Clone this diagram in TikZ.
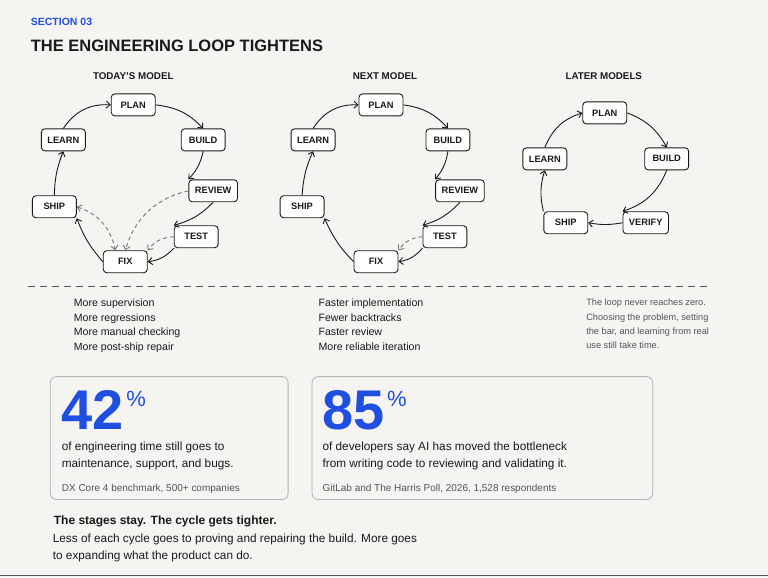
\documentclass[tikz,border=0pt]{standalone}
\usepackage{fontspec}
\setmainfont{Liberation Sans}
\usetikzlibrary{arrows.meta}
\definecolor{bg}{HTML}{F5F4F1}
\definecolor{blu}{HTML}{1F4FE0}
\definecolor{ink}{HTML}{1A1A1A}
\definecolor{gr}{HTML}{555555}
\begin{document}
\begin{tikzpicture}[x=1pt,y=-1pt,
 st/.style={draw=ink,line width=0.9pt,rounded corners=3.5pt,fill=white,minimum height=22pt,minimum width=44pt,inner xsep=6pt,font=\fontsize{9.3}{11}\selectfont\bfseries,text=ink},
 ar/.style={draw=ink,line width=0.9pt,-{Straight Barb[length=4pt,width=7pt]}},
 da/.style={draw=gr!80,line width=0.9pt,dash pattern=on 4pt off 3pt,-{Straight Barb[length=4pt,width=7pt]}},
 hd/.style={font=\fontsize{9.8}{11}\selectfont\bfseries,text=ink},
 tx/.style={anchor=north west,align=left,font=\fontsize{10.6}{14.5}\selectfont,text=ink},
 sm/.style={anchor=north west,align=left,font=\fontsize{9.2}{14.2}\selectfont,text=gr},
 card/.style={draw=gray!60,line width=0.8pt,rounded corners=6pt}]
\fill[bg] (0,0) rectangle (768,578);
\node[anchor=west,text=blu,font=\fontsize{10.5}{12}\selectfont\bfseries] (sec) at (27,22) {SECTION 03};
\node[anchor=west,text=ink,font=\fontsize{16.5}{20}\selectfont\bfseries] (ttl) at (27,46) {THE ENGINEERING LOOP TIGHTENS};
% model 1
\node[hd] (h1) at (133,76) {TODAY'S MODEL};
\node[st] (p1) at (133,105) {PLAN};
\node[st] (b1) at (203,140) {BUILD};
\node[st] (r1) at (213,191) {REVIEW};
\node[st] (t1) at (196,237) {TEST};
\node[st] (f1) at (125,262) {FIX};
\node[st] (s1) at (54,207) {SHIP};
\node[st] (l1) at (63,140) {LEARN};
\draw[ar] (p1.east) to[bend left=20] (b1.north);
\draw[ar] (b1.south) to[bend left=15] (r1.north west);
\draw[ar] (r1.south) to[bend left=15] (t1.north west);
\draw[ar] (t1.south west) to[bend left=20] (f1.east);
\draw[ar] (f1.west) to[bend left=10] (s1.south east);
\draw[ar] (s1.north) to[bend left=10] (l1.south);
\draw[ar] (l1.north) to[bend left=30] (p1.west);
\draw[da] (r1.west) to[bend right=30] (f1.north);
\draw[da] (t1.west) to[bend right=25] (f1.north east);
\draw[da,{Straight Barb[length=4pt,width=7pt]}-{Straight Barb[length=4pt,width=7pt]}] (s1.east) to[bend left=30] ([xshift=-10pt]f1.north);
% model 2
\node[hd] (h2) at (385,76) {NEXT MODEL};
\node[st] (p2) at (381,105) {PLAN};
\node[st] (b2) at (448,140) {BUILD};
\node[st] (r2) at (460,191) {REVIEW};
\node[st] (t2) at (445,237) {TEST};
\node[st] (f2) at (376,262) {FIX};
\node[st] (s2) at (302,207) {SHIP};
\node[st] (l2) at (313,140) {LEARN};
\draw[ar] (p2.east) to[bend left=20] (b2.north);
\draw[ar] (b2.south) to[bend left=15] (r2.north west);
\draw[ar] (r2.south) to[bend left=15] (t2.north west);
\draw[ar] (t2.south west) to[bend left=20] (f2.east);
\draw[ar] (f2.west) to[bend left=10] (s2.south east);
\draw[ar] (s2.north) to[bend left=10] (l2.south);
\draw[ar] (l2.north) to[bend left=30] (p2.west);
\draw[da] (t2.west) to[bend right=25] (f2.north east);
% model 3
\node[hd] (h3) at (604,76) {LATER MODELS};
\node[st] (p3) at (605,113) {PLAN};
\node[st] (b3) at (667,159) {BUILD};
\node[st] (v3) at (646,223) {VERIFY};
\node[st] (s3) at (566,223) {SHIP};
\node[st] (l3) at (545,159) {LEARN};
\draw[ar] (p3.east) to[bend left=20] (b3.north);
\draw[ar] (b3.south) to[bend left=25] (v3.north west);
\draw[ar] (v3.west) to[bend left=10] (s3.east);
\draw[ar] (s3.north west) to[bend left=15] (l3.south);
\draw[ar] (l3.north) to[bend left=25] (p3.west);
% separator
\draw[gr,line width=0.9pt,dash pattern=on 7pt off 5pt] (28,287) -- (708,287);
\node[tx] (c1) at (70,296) {More supervision\\More regressions\\More manual checking\\More post-ship repair};
\node[tx] (c2) at (315,296) {Faster implementation\\Fewer backtracks\\Faster review\\More reliable iteration};
\node[sm] (c3) at (583,296) {The loop never reaches zero.\\Choosing the problem, setting\\the bar, and learning from real\\use still take time.};
% cards
\draw[card] (50,377) rectangle (288,500);
\draw[card] (312,377) rectangle (653,500);
\node[anchor=base west,text=blu,font=\fontsize{56}{56}\selectfont\bfseries,inner sep=0] (n1) at (61,430) {42};
\node[anchor=north west,text=blu,font=\fontsize{22}{22}\selectfont,inner sep=0] (pc1) at (126,391) {\%};
\node[tx,font=\fontsize{11.8}{16.5}\selectfont] (d1) at (58,439) {of engineering time still goes to\\maintenance, support, and bugs.};
\node[sm,font=\fontsize{10}{12}\selectfont] (s1t) at (58,481) {DX Core 4 benchmark, 500+ companies};
\node[anchor=base west,text=blu,font=\fontsize{56}{56}\selectfont\bfseries,inner sep=0] (n2) at (322,430) {85};
\node[anchor=north west,text=blu,font=\fontsize{22}{22}\selectfont,inner sep=0] (pc2) at (387,391) {\%};
\node[tx,font=\fontsize{11.8}{16.5}\selectfont] (d2) at (319,439) {of developers say AI has moved the bottleneck\\from writing code to reviewing and validating it.};
\node[sm,font=\fontsize{10}{12}\selectfont] (s2t) at (319,481) {GitLab and The Harris Poll, 2026, 1,528 respondents};
% bottom
\node[anchor=west,text=ink,font=\fontsize{12}{14}\selectfont\bfseries] (bt) at (50,522) {The stages stay. The cycle gets tighter.};
\node[tx,font=\fontsize{11.8}{17}\selectfont] (bb) at (49,531) {Less of each cycle goes to proving and repairing the build. More goes\\to expanding what the product can do.};
\draw[gr,line width=0.8pt] (0,576) -- (768,576);
\end{tikzpicture}
\end{document}
